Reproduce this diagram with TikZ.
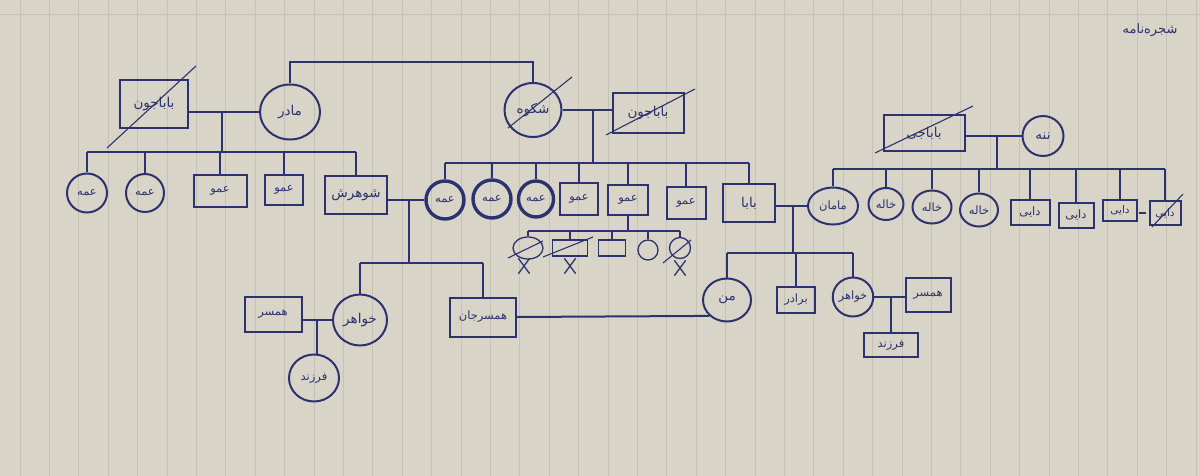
\documentclass[tikz,border=0pt]{standalone}
\usepackage{fontspec}
\usetikzlibrary{calc,positioning,shapes.geometric,shapes.misc}
\TeXXeTstate=1
\newfontfamily\farsi[Script=Arabic]{DejaVu Sans}
\definecolor{ink}{RGB}{44,50,112}
\definecolor{paper}{RGB}{216,212,199}
\definecolor{ruling}{RGB}{196,193,183}
\newcommand{\fatxt}[1]{\beginR #1\endR}

\tikzset{
  line/.style={draw=ink, line width=2pt},
  thin line/.style={draw=ink, line width=1.3pt},
  fem/.style={ellipse, draw=ink, line width=2pt, inner sep=0pt, text=ink,
    font=\farsi\fontsize{11.5}{11.5}\selectfont},
  masc/.style={rectangle, draw=ink, line width=2pt, inner sep=0pt, text=ink,
    font=\farsi\fontsize{11.5}{11.5}\selectfont},
  big/.style={font=\farsi\fontsize{13.5}{13.5}\selectfont},
  tiny/.style={font=\farsi\fontsize{10.5}{10.5}\selectfont},
  bold/.style={line width=3.4pt},
  small/.style={line width=1.3pt},
  strike/.style={draw=ink, line width=1.1pt},
  xmark/.style={cross out, draw=ink, line width=1.3pt, minimum width=10pt,
    minimum height=14pt, inner sep=0pt}
}

\begin{document}
\begin{tikzpicture}[x=1pt,y=-1pt]
  \useasboundingbox (0,0) rectangle (1200,476);
  % paper
  \fill[paper] (0,0) rectangle (1200,476);
  \foreach \i in {0,...,40} { \draw[ruling, line width=0.8pt] (20+29.4*\i,0) -- (20+29.4*\i,476); }
  \draw[ruling, line width=0.8pt] (0,14) -- (1200,14);

  % title
  \node[text=ink, font=\farsi\fontsize{13}{13}\selectfont] (title) at (1150,30) {\fatxt{شجره‌نامه}};

  % grandparents
  \node[masc, big, minimum width=68pt, minimum height=48pt] (bjL) at (154,104) {\fatxt{باباجون}};
  \node[fem, big, minimum width=60pt, minimum height=55pt] (madar) at (290,112) {\fatxt{مادر}};
  \node[fem, big, minimum width=57pt, minimum height=54pt] (shokuh) at (533,110) {\fatxt{شکوه}};
  \node[masc, big, minimum width=71pt, minimum height=40pt] (bjM) at (648,113) {\fatxt{باباجون}};
  \node[masc, big, minimum width=81pt, minimum height=36pt] (bjR) at (924,133) {\fatxt{باباجی}};
  \node[fem, big, minimum width=41pt, minimum height=40pt] (naneh) at (1043,136) {\fatxt{ننه}};

  % children, left
  \node[fem, minimum width=40pt, minimum height=39pt] (amme1) at (87,193) {\fatxt{عمه}};
  \node[fem, minimum width=38pt, minimum height=38pt] (amme2) at (145,193) {\fatxt{عمه}};
  \node[masc, minimum width=53pt, minimum height=31pt] (amuL1) at (220,191) {\fatxt{عمو}};
  \node[masc, minimum width=38pt, minimum height=30pt] (amuL2) at (284,190) {\fatxt{عمو}};
  \node[masc, big, minimum width=62pt, minimum height=38pt] (shohar) at (356,195) {\fatxt{شوهرش}};

  % children, middle
  \node[fem, bold, minimum width=38pt, minimum height=38pt] (ammeB1) at (445,200) {\fatxt{عمه}};
  \node[fem, bold, minimum width=38pt, minimum height=38pt] (ammeB2) at (492,199) {\fatxt{عمه}};
  \node[fem, bold, minimum width=35pt, minimum height=36pt] (ammeB3) at (536,199) {\fatxt{عمه}};
  \node[masc, minimum width=38pt, minimum height=32pt] (amuB1) at (579,199) {\fatxt{عمو}};
  \node[masc, minimum width=40pt, minimum height=30pt] (amuB2) at (628,200) {\fatxt{عمو}};
  \node[masc, minimum width=39pt, minimum height=32pt] (amuB3) at (686,203) {\fatxt{عمو}};
  \node[masc, big, minimum width=52pt, minimum height=37pt] (baba) at (749,203) {\fatxt{بابا}};

  % children, right
  \node[fem, minimum width=50pt, minimum height=37pt] (maman) at (833,206) {\fatxt{مامان}};
  \node[fem, minimum width=35pt, minimum height=32pt] (khale1) at (886,204) {\fatxt{خاله}};
  \node[fem, minimum width=39pt, minimum height=33pt] (khale2) at (932,207) {\fatxt{خاله}};
  \node[fem, minimum width=38pt, minimum height=33pt] (khale3) at (979,210) {\fatxt{خاله}};
  \node[masc, minimum width=39pt, minimum height=25pt] (dayi1) at (1030,212) {\fatxt{دایی}};
  \node[masc, minimum width=35pt, minimum height=25pt] (dayi2) at (1076,215) {\fatxt{دایی}};
  \node[masc, tiny, minimum width=34pt, minimum height=21pt] (dayi3) at (1120,210) {\fatxt{دایی}};
  \node[masc, tiny, minimum width=31pt, minimum height=24pt] (dayi4) at (1165,213) {\fatxt{دایی}};

  % children of amuB2
  \node[fem, small, minimum width=30pt, minimum height=22pt] (c1) at (528,248) {};
  \node[masc, small, minimum width=35pt, minimum height=16pt] (c2) at (570,248) {};
  \node[masc, small, minimum width=27pt, minimum height=16pt] (c3) at (612,248) {};
  \node[fem, small, minimum width=20pt, minimum height=20pt] (c4) at (648,250) {};
  \node[fem, small, minimum width=21pt, minimum height=21pt] (c5) at (680,248) {};
  \node[xmark] (x1) at (524,266) {};
  \node[xmark] (x2) at (570,266) {};
  \node[xmark] (x5) at (680,268) {};

  % grandchildren
  \node[fem, big, minimum width=48pt, minimum height=43pt] (man) at (727,300) {\fatxt{من}};
  \node[masc, minimum width=38pt, minimum height=26pt] (baradar) at (796,300) {\fatxt{برادر}};
  \node[fem, minimum width=37pt, minimum height=39pt] (khahar) at (853,297) {\fatxt{خواهر}};
  \node[masc, minimum width=45pt, minimum height=34pt] (hamsarR) at (928,295) {\fatxt{همسر}};
  \node[masc, minimum width=54pt, minimum height=24pt] (farzandR) at (891,345) {\fatxt{فرزند}};
  \node[fem, big, minimum width=54pt, minimum height=51pt] (khaharL) at (360,320) {\fatxt{خواهر}};
  \node[masc, minimum width=66pt, minimum height=39pt] (hamsarjan) at (483,317) {\fatxt{همسرجان}};
  \node[masc, minimum width=57pt, minimum height=35pt] (hamsarL) at (273,314) {\fatxt{همسر}};
  \node[fem, minimum width=50pt, minimum height=47pt] (farzandL) at (314,378) {\fatxt{فرزند}};

  % deceased
  \draw[strike] ([shift={(-12,19)}]bjL.south west) -- ([shift={(7,-13)}]bjL.north east);
  \draw[strike] ($(shokuh)+(-25,18)$) -- ($(shokuh)+(39,-33)$);
  \draw[strike] ($(bjM)+(-42,22)$) -- ($(bjM)+(47,-24)$);
  \draw[strike] ($(bjR)+(-49,20)$) -- ($(bjR)+(49,-27)$);
  \draw[strike] ($(dayi4)+(-13,14)$) -- ($(dayi4)+(18,-19)$);
  \draw[strike] ($(c1)+(-20,10)$) -- ($(c1)+(15,-7)$);
  \draw[strike] ($(c2)+(-27,9)$) -- ($(c2)+(23,-11)$);
  \draw[strike] ($(c5)+(-17,15)$) -- ($(c5)+(11,-8)$);
  \draw[line] ([xshift=-10pt]dayi4.west) -- ([xshift=-3pt]dayi4.west);

  % left family
  \draw[line] (madar.north) |- ($(shokuh.north)+(0,-20)$) -- (shokuh.north);
  \draw[line] (bjL.east |- madar.west) -- (madar.west);
  \coordinate (cplL) at ($(bjL.east |- madar.west)!0.47!(madar.west)$);
  \draw[line] (cplL) -- ++(0,40) coordinate (sibL);
  \draw[line] (amme1.north |- sibL) -- (shohar.north |- sibL);
  \foreach \k in {amme1,amme2,amuL1,amuL2,shohar} { \draw[line] (\k.north |- sibL) -- (\k.north); }

  % middle family
  \draw[line] (shokuh.east) -- (shokuh.east -| bjM.west);
  \coordinate (cplM) at ($(shokuh.east)!0.63!(shokuh.east -| bjM.west)$);
  \draw[line] (cplM) -- ++(0,53) coordinate (sibM);
  \draw[line] (ammeB1.north |- sibM) -- (baba.north |- sibM);
  \foreach \k in {ammeB1,ammeB2,ammeB3,amuB1,amuB2,amuB3,baba} { \draw[line] (\k.north |- sibM) -- (\k.north); }

  % right family
  \draw[line] (bjR.east |- naneh.west) -- (naneh.west);
  \coordinate (cplR) at ($(bjR.east |- naneh.west)!0.57!(naneh.west)$);
  \draw[line] (cplR) -- ++(0,33) coordinate (sibR);
  \draw[line] (maman.north |- sibR) -- (dayi4.north |- sibR);
  \foreach \k in {maman,khale1,khale2,khale3,dayi1,dayi2,dayi3,dayi4} { \draw[line] (\k.north |- sibR) -- (\k.north); }

  % children of amuB2
  \draw[thin line] (amuB2.south) -- ++(0,15) coordinate (sibS);
  \draw[thin line] (c1.north |- sibS) -- (c5.north |- sibS);
  \foreach \k in {c1,c2,c3,c4,c5} { \draw[thin line] (\k.north |- sibS) -- (\k.north); }

  % baba + maman
  \draw[line] (baba.east |- maman.west) -- (maman.west);
  \coordinate (cplP) at ($(baba.east |- maman.west)!0.55!(maman.west)$);
  \draw[line] (cplP) -- ++(0,47) coordinate (sibP);
  \draw[line] (man.north |- sibP) -- (khahar.north |- sibP);
  \foreach \k in {man,baradar,khahar} { \draw[line] (\k.north |- sibP) -- (\k.north); }

  % khahar + hamsar
  \draw[line] (khahar.east) -- (khahar.east -| hamsarR.west);
  \coordinate (cplK) at ($(khahar.east)!0.54!(khahar.east -| hamsarR.west)$);
  \draw[line] (cplK) -- (cplK |- farzandR.north);

  % shohar + amme
  \draw[line] (shohar.east |- ammeB1.west) -- (ammeB1.west);
  \coordinate (cplS) at ($(shohar.east |- ammeB1.west)!0.58!(ammeB1.west)$);
  \draw[line] (cplS) -- ++(0,63) coordinate (sibS2);
  \draw[line] (khaharL.north |- sibS2) -- (hamsarjan.north |- sibS2);
  \foreach \k in {khaharL,hamsarjan} { \draw[line] (\k.north |- sibS2) -- (\k.north); }

  % khaharL + hamsarL
  \draw[line] (khaharL.west) -- (khaharL.west -| hamsarL.east);
  \coordinate (cplKL) at ($(khaharL.west)!0.5!(khaharL.west -| hamsarL.east)$);
  \draw[line] (cplKL) -- (cplKL |- farzandL.north);

  % man + hamsarjan
  \draw[line] (hamsarjan.east) -- (man.south west);
\end{tikzpicture}
\end{document}
